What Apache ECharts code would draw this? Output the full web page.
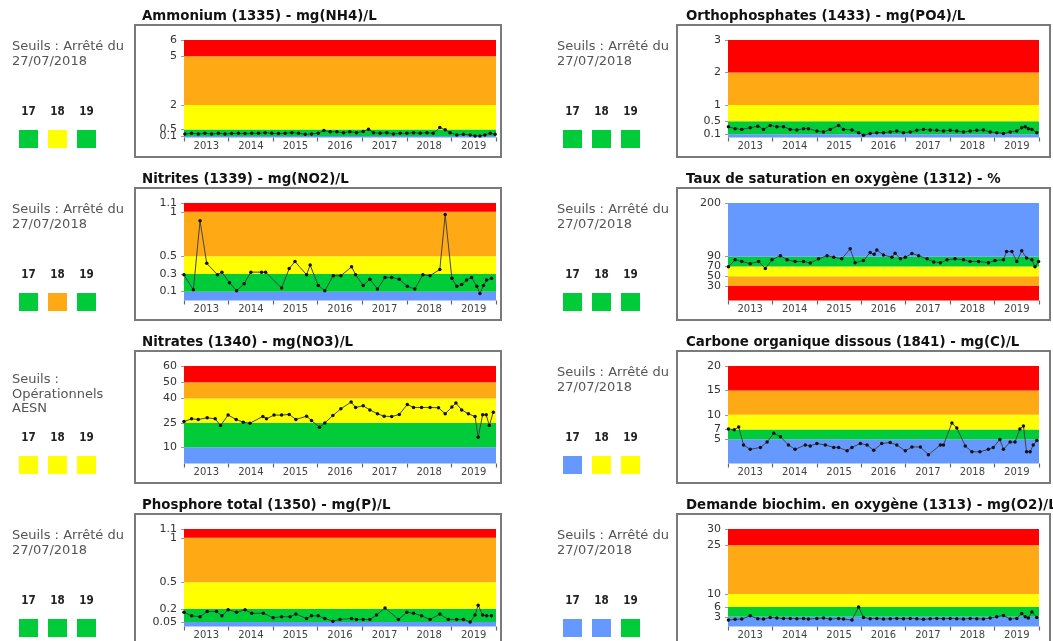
<!DOCTYPE html>
<html><head><meta charset="utf-8">
<script src="https://cdn.jsdelivr.net/npm/echarts@6/dist/echarts.min.js"></script>
<style>html,body{margin:0;padding:0;background:#fff}#c{width:1053px;height:641px}</style>
</head><body><div id="c"></div>
<script>
// ---------- DATA ----------
const years = ['2013','2014','2015','2016','2017','2018','2019'];

// Ammonium (1335) - mg(NH4)/L
const nh4Dates = [2013.02,2013.17,2013.32,2013.47,2013.62,2013.77,2013.92,2014.07,2014.22,2014.37,2014.52,2014.67,2014.82,2014.97,2015.12,2015.27,2015.42,2015.57,2015.72,2015.86,2016.01,2016.14,2016.28,2016.43,2016.58,2016.72,2016.87,2017.02,2017.14,2017.25,2017.40,2017.55,2017.70,2017.85,2018.00,2018.15,2018.30,2018.45,2018.59,2018.74,2018.86,2018.97,2019.12,2019.27,2019.42,2019.53,2019.64,2019.75,2019.87,2019.98];
const nh4Values = [0.22,0.26,0.22,0.26,0.22,0.26,0.22,0.24,0.26,0.24,0.26,0.26,0.30,0.26,0.24,0.26,0.30,0.26,0.20,0.22,0.26,0.43,0.35,0.35,0.30,0.35,0.30,0.37,0.51,0.30,0.26,0.30,0.22,0.26,0.26,0.30,0.26,0.30,0.26,0.61,0.47,0.30,0.16,0.20,0.16,0.10,0.10,0.16,0.26,0.20];
const nh4Thresholds = [0, 0.1, 0.5, 2, 5, 6];
const nh4Bands = ['blue','green','yellow','orange','red'];
const nh4Ticks = [0.1, 0.5, 2, 5, 6];
const nh4Status = ['green','yellow','green'];

// Orthophosphates (1433) - mg(PO4)/L
const po4Dates = [2013.01,2013.16,2013.31,2013.50,2013.67,2013.80,2013.95,2014.10,2014.25,2014.40,2014.55,2014.70,2014.81,2015.00,2015.15,2015.30,2015.49,2015.60,2015.79,2015.94,2016.05,2016.20,2016.35,2016.50,2016.65,2016.80,2016.95,2017.10,2017.25,2017.40,2017.55,2017.70,2017.85,2018.00,2018.15,2018.30,2018.45,2018.60,2018.75,2018.90,2019.05,2019.20,2019.35,2019.50,2019.61,2019.69,2019.76,2019.84,2019.95];
const po4Values = [0.33,0.27,0.25,0.30,0.35,0.25,0.37,0.33,0.33,0.25,0.23,0.27,0.27,0.20,0.17,0.25,0.37,0.25,0.23,0.15,0.07,0.12,0.15,0.15,0.17,0.20,0.15,0.17,0.22,0.25,0.23,0.22,0.20,0.22,0.20,0.17,0.20,0.22,0.23,0.17,0.15,0.12,0.17,0.20,0.30,0.33,0.27,0.25,0.15];
const po4Thresholds = [0, 0.1, 0.5, 1, 2, 3];
const po4Bands = ['blue','green','yellow','orange','red'];
const po4Ticks = [0.1, 0.5, 1, 2, 3];
const po4Status = ['green','green','green'];

// Nitrites (1339) - mg(NO2)/L
const no2Dates = [2013.00,2013.21,2013.36,2013.51,2013.75,2013.85,2014.02,2014.18,2014.35,2014.50,2014.74,2014.83,2015.19,2015.36,2015.49,2015.75,2015.83,2016.01,2016.16,2016.35,2016.52,2016.76,2016.85,2017.02,2017.17,2017.34,2017.51,2017.66,2017.83,2018.01,2018.18,2018.36,2018.52,2018.74,2018.86,2019.01,2019.12,2019.23,2019.34,2019.45,2019.57,2019.64,2019.72,2019.79,2019.90];
const no2Values = [0.29,0.12,0.90,0.42,0.29,0.32,0.20,0.11,0.19,0.32,0.32,0.32,0.14,0.36,0.44,0.29,0.40,0.17,0.11,0.28,0.28,0.38,0.29,0.17,0.24,0.13,0.26,0.26,0.24,0.16,0.13,0.29,0.28,0.35,0.97,0.25,0.16,0.18,0.23,0.26,0.16,0.08,0.17,0.23,0.25];
const no2Thresholds = [0, 0.1, 0.3, 0.5, 1, 1.1];
const no2Bands = ['blue','green','yellow','orange','red'];
const no2Ticks = [0.1, 0.3, 0.5, 1, 1.1];
const no2Status = ['green','orange','green'];

// Taux de saturation en oxygène (1312) - %
const o2sDates = [2013.01,2013.16,2013.31,2013.50,2013.69,2013.84,2013.99,2014.18,2014.33,2014.51,2014.70,2014.85,2015.04,2015.23,2015.38,2015.56,2015.75,2015.86,2016.05,2016.20,2016.29,2016.35,2016.50,2016.69,2016.76,2016.88,2016.99,2017.14,2017.29,2017.48,2017.63,2017.78,2017.93,2018.11,2018.30,2018.45,2018.64,2018.86,2019.01,2019.20,2019.27,2019.39,2019.50,2019.61,2019.72,2019.84,2019.91,2019.99];
const o2sValues = [69,83.4,80,75.6,80,65.8,83.4,92,83.4,80,80,77,85.4,92,88.7,85.4,106,77.5,82,98.5,95,103.7,93.3,88.7,97,85.4,88.7,96.5,92,85.4,79,77.5,83.4,85.4,83.4,80,80,77.5,82,83.4,100.5,100.5,80,101.8,87.4,83.4,69,80];
const o2sThresholds = [0, 30, 50, 70, 90, 200];
const o2sBands = ['red','orange','yellow','green','blue'];
const o2sTicks = [30, 50, 70, 90, 200];
const o2sStatus = ['green','green','green'];

// Nitrates (1340) - mg(NO3)/L
const no3Dates = [2013.00,2013.17,2013.32,2013.52,2013.70,2013.82,2013.99,2014.17,2014.33,2014.48,2014.77,2014.85,2015.02,2015.19,2015.36,2015.51,2015.75,2015.86,2016.04,2016.16,2016.34,2016.52,2016.75,2016.85,2017.02,2017.17,2017.34,2017.49,2017.66,2017.83,2018.01,2018.15,2018.33,2018.52,2018.71,2018.86,2019.01,2019.10,2019.23,2019.38,2019.53,2019.60,2019.70,2019.78,2019.85,2019.94];
const no3Values = [25.8,27.5,27.1,28.1,27.5,23.4,29.8,27.1,25.4,24.8,29.0,27.5,29.8,29.8,30.2,27.1,29.1,26.5,22.3,25.0,29.5,33.7,37.8,34.5,35.5,33.0,30.6,29.1,28.9,30.2,36.3,34.5,34.5,34.5,34.3,30.6,34.7,37.2,33.0,30.6,28.9,16.2,30.0,30.0,23.4,31.6];
const no3Thresholds = [0, 10, 25, 40, 50, 60];
const no3Bands = ['blue','green','yellow','orange','red'];
const no3Ticks = [10, 25, 40, 50, 60];
const no3Status = ['yellow','yellow','yellow'];

// Carbone organique dissous (1841) - mg(C)/L
const docDates = [2013.01,2013.14,2013.24,2013.35,2013.50,2013.73,2013.88,2014.03,2014.18,2014.36,2014.51,2014.74,2014.85,2015.00,2015.19,2015.38,2015.49,2015.68,2015.79,2015.98,2016.13,2016.28,2016.46,2016.65,2016.80,2016.99,2017.14,2017.33,2017.51,2017.78,2017.85,2018.04,2018.15,2018.34,2018.49,2018.67,2018.86,2018.97,2019.12,2019.20,2019.35,2019.46,2019.57,2019.65,2019.72,2019.80,2019.87,2019.95];
const docValues = [7.1,6.9,7.5,3.8,2.9,3.3,4.4,6.2,5.5,3.8,2.9,3.8,3.6,4.1,3.8,3.3,3.3,2.6,3.3,4.1,3.8,2.7,4.1,4.3,3.8,2.6,3.4,3.4,1.8,3.8,3.8,8.3,7.3,3.6,2.4,2.4,2.9,3.3,4.9,2.9,4.4,4.4,7.1,7.7,2.4,2.4,3.8,4.7];
const docThresholds = [0, 5, 7, 10, 15, 20];
const docBands = ['blue','green','yellow','orange','red'];
const docTicks = [5, 7, 10, 15, 20];
const docStatus = ['blue','yellow','yellow'];

// Phosphore total (1350) - mg(P)/L
const ptDates = [2013.00,2013.17,2013.36,2013.52,2013.73,2013.85,2013.99,2014.18,2014.37,2014.52,2014.78,2015.00,2015.19,2015.38,2015.51,2015.75,2015.86,2016.01,2016.16,2016.34,2016.50,2016.76,2016.87,2017.02,2017.17,2017.32,2017.51,2017.81,2018.00,2018.15,2018.33,2018.52,2018.74,2018.93,2019.12,2019.27,2019.42,2019.53,2019.60,2019.70,2019.79,2019.90];
const ptValues = [0.16,0.12,0.11,0.17,0.17,0.12,0.19,0.16,0.19,0.15,0.15,0.10,0.11,0.11,0.14,0.09,0.12,0.12,0.09,0.06,0.08,0.09,0.08,0.08,0.08,0.13,0.21,0.08,0.16,0.15,0.12,0.08,0.14,0.08,0.08,0.08,0.05,0.13,0.24,0.13,0.12,0.12];
const ptThresholds = [0, 0.05, 0.2, 0.5, 1, 1.1];
const ptBands = ['blue','green','yellow','orange','red'];
const ptTicks = [0.05, 0.2, 0.5, 1, 1.1];
const ptStatus = ['green','green','green'];

// Demande biochim. en oxygène (1313) - mg(O2)/L
const dboDates = po4Dates;
const dboValues = [2.0,2.2,2.3,3.3,2.4,2.3,2.8,2.6,2.5,2.5,2.4,2.5,2.3,2.5,2.6,2.3,2.5,2.3,2.0,6.0,2.8,2.4,2.5,2.3,2.4,2.5,2.4,2.5,2.4,2.2,2.4,2.5,2.4,2.5,2.4,2.3,2.5,2.4,2.3,2.6,3.0,3.4,2.3,2.5,4.0,3.0,2.6,4.5,2.8];
const dboThresholds = [0, 3, 6, 10, 25, 30];
const dboBands = ['blue','green','yellow','orange','red'];
const dboTicks = [3, 6, 10, 25, 30];
const dboStatus = ['blue','blue','green'];

const statusYears = ['17','18','19'];
const seuilArrete = ['Seuils : Arrêté du', '27/07/2018'];
const seuilAESN = ['Seuils :', 'Opérationnels', 'AESN'];

// ---------- PANELS ----------
const panels = [
  {row:0,col:0,title:'Ammonium (1335) - mg(NH4)/L',dates:nh4Dates,values:nh4Values,th:nh4Thresholds,bands:nh4Bands,ticks:nh4Ticks,status:nh4Status,seuil:seuilArrete},
  {row:0,col:1,title:'Orthophosphates (1433) - mg(PO4)/L',dates:po4Dates,values:po4Values,th:po4Thresholds,bands:po4Bands,ticks:po4Ticks,status:po4Status,seuil:seuilArrete},
  {row:1,col:0,title:'Nitrites (1339) - mg(NO2)/L',dates:no2Dates,values:no2Values,th:no2Thresholds,bands:no2Bands,ticks:no2Ticks,status:no2Status,seuil:seuilArrete},
  {row:1,col:1,title:'Taux de saturation en oxygène (1312) - %',dates:o2sDates,values:o2sValues,th:o2sThresholds,bands:o2sBands,ticks:o2sTicks,status:o2sStatus,seuil:seuilArrete},
  {row:2,col:0,title:'Nitrates (1340) - mg(NO3)/L',dates:no3Dates,values:no3Values,th:no3Thresholds,bands:no3Bands,ticks:no3Ticks,status:no3Status,seuil:seuilAESN},
  {row:2,col:1,title:'Carbone organique dissous (1841) - mg(C)/L',dates:docDates,values:docValues,th:docThresholds,bands:docBands,ticks:docTicks,status:docStatus,seuil:seuilArrete},
  {row:3,col:0,title:'Phosphore total (1350) - mg(P)/L',dates:ptDates,values:ptValues,th:ptThresholds,bands:ptBands,ticks:ptTicks,status:ptStatus,seuil:seuilArrete},
  {row:3,col:1,title:'Demande biochim. en oxygène (1313) - mg(O2)/L',dates:dboDates,values:dboValues,th:dboThresholds,bands:dboBands,ticks:dboTicks,status:dboStatus,seuil:seuilArrete}
];

// ---------- STYLE ----------
const COLORS = {red:'#FF0000',orange:'#FFA914',yellow:'#FFFF00',green:'#00CC3A',blue:'#6699FF'};
const ROW_H = 163;
const FONT = '"DejaVu Sans", Verdana, sans-serif';
const L = [
  {plotLeft:184, plotW:312, boxX:135, boxW:366, titleX:142, textX:12, sqX:[19,48,77]},
  {plotLeft:728, plotW:311, boxX:677, boxW:373, titleX:686, textX:557, sqX:[563,592,621]}
];

function yAxisFor(gi, max, vals){
  return {type:'value', gridIndex:gi, min:0, max:max, position:'left', offset:0,
    axisLine:{show:false}, splitLine:{show:false},
    axisTick:{show:true, length:3, customValues:vals, lineStyle:{color:'#999'}},
    axisLabel:{customValues:vals, fontSize:11, color:'#333', margin:7, fontFamily:FONT,
      hideOverlap:false, showMinLabel:true, showMaxLabel:true}};
}

const grids=[], xAxes=[], yAxes=[], series=[], graphics=[];
panels.forEach((p,i)=>{
  const lay = L[p.col], dy = p.row*ROW_H;
  const max = p.th[p.th.length-1];
  grids.push({left:lay.plotLeft, top:40+dy, width:lay.plotW, height:97.5});
  xAxes.push({type:'category', gridIndex:i, data:years, boundaryGap:true,
    axisLine:{show:false},
    axisTick:{show:true, interval:0, length:4, lineStyle:{color:'#666', width:1.2}},
    axisLabel:{interval:0, fontSize:10, color:'#444', margin:4, fontFamily:FONT},
    splitLine:{show:false}});
  xAxes.push({type:'value', gridIndex:i, min:2013, max:2020, show:false});
  // two label layers so that close threshold labels are all drawn
  yAxes.push(yAxisFor(i, max, p.ticks.filter((v,k)=>k%2===0)));
  yAxes.push(yAxisFor(i, max, p.ticks.filter((v,k)=>k%2===1)));
  const areas = p.bands.map((b,k)=>[
    {yAxis:p.th[k], itemStyle:{color:COLORS[b]}},
    {yAxis:p.th[k+1]}
  ]);
  series.push({type:'line', xAxisIndex:2*i+1, yAxisIndex:2*i,
    data:p.dates.map((d,k)=>[d,p.values[k]]),
    symbol:'circle', symbolSize:3.5, showSymbol:true,
    itemStyle:{color:'#111'}, lineStyle:{color:'#444', width:1},
    silent:true, animation:false,
    markArea:{silent:true, data:areas}});
  // frame
  graphics.push({type:'rect', shape:{x:lay.boxX, y:25+dy, width:lay.boxW, height:132},
    style:{fill:'none', stroke:'#7a7a7a', lineWidth:2}, z:100});
  // title
  graphics.push({type:'text', x:lay.titleX, y:16.5+dy, scaleX:0.955,
    style:{text:p.title, font:'bold 14px '+FONT, fill:'#111', textVerticalAlign:'middle'}});
  // seuil text
  const sy = p.seuil.length===3 ? 54 : 47;
  p.seuil.forEach((t,k)=>{
    graphics.push({type:'text', x:lay.textX, y:sy+k*14.5+dy,
      style:{text:t, font:'13px '+FONT, fill:'#555', textVerticalAlign:'middle'}});
  });
  // year labels and status squares
  statusYears.forEach((yy,k)=>{
    graphics.push({type:'text', x:lay.sqX[k]+9.5, y:112+dy, scaleX:0.8,
      style:{text:yy, font:'bold 13px '+FONT, fill:'#222', textAlign:'center', textVerticalAlign:'middle'}});
    graphics.push({type:'rect', shape:{x:lay.sqX[k], y:130+dy, width:19, height:18},
      style:{fill:COLORS[p.status[k]]}});
  });
});

const chart = echarts.init(document.getElementById('c'), null, {renderer:'canvas'});
chart.setOption({animation:false, backgroundColor:'#fff', grid:grids, xAxis:xAxes, yAxis:yAxes, series:series, graphic:graphics});
</script></body></html>
